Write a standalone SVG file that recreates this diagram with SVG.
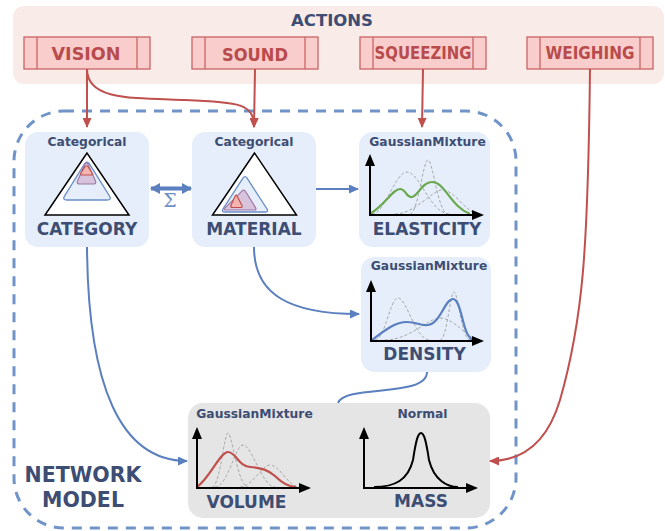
<svg xmlns="http://www.w3.org/2000/svg" width="665" height="531" viewBox="0 0 665 531">
<style>
.title{font-family:"DejaVu Sans",Verdana,sans-serif;font-weight:bold;fill:#3d4d73;text-anchor:middle}
.act{font-family:"DejaVu Sans",Verdana,sans-serif;font-weight:bold;fill:#b84b4b;font-size:17px;text-anchor:middle}
.dist{font-size:12.3px}
.lbl{font-size:17px}
.abox{fill:#f8cdcc;stroke:#c96464;stroke-width:1.3}
.aline{stroke:#c96464;stroke-width:1.3}
.nbox{fill:#e5eefa}
.red{fill:none;stroke:#c0504d;stroke-width:2}
.blue{fill:none;stroke:#5b7fbf;stroke-width:2}
.axis{fill:none;stroke:#000;stroke-width:2}
.gd{fill:none;stroke:#a8a8a8;stroke-width:1;stroke-dasharray:3 2}
</style>
<defs>
<marker id="ar" markerUnits="userSpaceOnUse" markerWidth="10" markerHeight="9" refX="9" refY="4.5" orient="auto"><path d="M0,0 L10,4.5 L0,9 Z" fill="#c0504d"/></marker>
<marker id="ab" markerUnits="userSpaceOnUse" markerWidth="10" markerHeight="9" refX="9" refY="4.5" orient="auto"><path d="M0,0 L10,4.5 L0,9 Z" fill="#5b7fbf"/></marker>
<marker id="ad" markerUnits="userSpaceOnUse" markerWidth="10" markerHeight="11" refX="9" refY="5.5" orient="auto-start-reverse"><path d="M0,0 L10,5.5 L0,11 Z" fill="#5b7fbf"/></marker>
<marker id="ak" markerUnits="userSpaceOnUse" markerWidth="12" markerHeight="10" refX="10" refY="5" orient="auto"><path d="M0,0 L12,5 L0,10 Z" fill="#000"/></marker>
</defs>

<g id="actions">
<rect x="13" y="6" width="651" height="78" rx="11" fill="#f9ebe8"/>
<text class="title" x="332" y="26" font-size="16.5">ACTIONS</text>
</g>
<g id="vision">
<rect class="abox" x="24" y="37" width="126" height="32"/>
<line class="aline" x1="37" y1="37" x2="37" y2="69"/><line class="aline" x1="137" y1="37" x2="137" y2="69"/>
<text class="act" x="86" y="59.5" textLength="69" lengthAdjust="spacingAndGlyphs">VISION</text>
</g>
<g id="sound">
<rect class="abox" x="192" y="37" width="126" height="32"/>
<line class="aline" x1="205" y1="37" x2="205" y2="69"/><line class="aline" x1="305" y1="37" x2="305" y2="69"/>
<text class="act" x="255" y="60.5" textLength="66" lengthAdjust="spacingAndGlyphs">SOUND</text>
</g>
<g id="squeezing">
<rect class="abox" x="360" y="37" width="126" height="32"/>
<line class="aline" x1="373" y1="37" x2="373" y2="69"/><line class="aline" x1="473" y1="37" x2="473" y2="69"/>
<text class="act" x="423" y="59" textLength="97" lengthAdjust="spacingAndGlyphs">SQUEEZING</text>
</g>
<g id="weighing">
<rect class="abox" x="527" y="37" width="126" height="32"/>
<line class="aline" x1="540" y1="37" x2="540" y2="69"/><line class="aline" x1="640" y1="37" x2="640" y2="69"/>
<text class="act" x="590" y="59" textLength="89" lengthAdjust="spacingAndGlyphs">WEIGHING</text>
</g>

<g id="network-model">
<rect x="14" y="111" width="502" height="417" rx="50" fill="none" stroke="#7094c8" stroke-width="3" stroke-dasharray="10 8"/>
<text class="title" x="83" y="481.5" font-size="20.5">NETWORK</text>
<text class="title" x="83" y="506.5" font-size="20.5">MODEL</text>
</g>

<g id="category">
<rect class="nbox" x="25" y="132" width="124" height="115" rx="13"/>
<text class="title dist" x="87" y="146">Categorical</text>
<polygon points="87,153 45,215 129,215" fill="#fff" stroke="#000" stroke-width="1.5"/>
<path d="M84.4 164.2 Q87 160 89.6 164.2 L109.4 195.8 Q112 200 107 200 L67 200 Q62 200 64.6 195.8 Z" fill="#e5eefa" stroke="#6a8fc7" stroke-width="1.3"/>
<path d="M84.8 164.6 Q86.5 161 88.2 164.6 L95.3 180.4 Q97 184 93 184 L80 184 Q76 184 77.7 180.4 Z" fill="#d8c3dc" stroke="#a079a8" stroke-width="1.2"/>
<path d="M84.8 167 Q86.5 164.5 88.2 167 L91.8 172.5 Q93.5 175 90.5 175 L82.5 175 Q79.5 175 81.2 172.5 Z" fill="#f4b4b0" stroke="#c0504d" stroke-width="1.2"/>
<text class="title lbl" x="87" y="235">CATEGORY</text>
</g>

<g id="material">
<rect class="nbox" x="192" y="132" width="124" height="115" rx="13"/>
<text class="title dist" x="254" y="146">Categorical</text>
<polygon points="254.5,153 212.5,215 296.5,215" fill="#fff" stroke="#000" stroke-width="1.5"/>
<path d="M242.8 178.4 Q245 175 247.2 178.4 L266.8 208.6 Q269 212 265 212 L225 212 Q221 212 223.2 208.6 Z" fill="#e5eefa" stroke="#6a8fc7" stroke-width="1.3"/>
<path d="M241.9 191.1 Q244 189 245.6 191.5 L255.4 207.4 Q257 210 254 210 L226 210 Q223 210 225.1 207.9 Z" fill="#d8c3dc" stroke="#a079a8" stroke-width="1.2"/>
<path d="M235 196.3 Q236 194 237.2 196.2 L241.8 205.3 Q243 207.5 240.5 207.5 L232.5 207.5 Q230 207.5 231 205.2 Z" fill="#f4b4b0" stroke="#c0504d" stroke-width="1.2"/>
<text class="title lbl" x="254" y="235">MATERIAL</text>
</g>

<g id="elasticity">
<rect class="nbox" x="359" y="132" width="131" height="115" rx="14"/>
<text class="title dist" x="427.5" y="146">GaussianMixture</text>
<path class="gd" d="M372 214 C385 214 395 172 407 172 C420 172 430 214 450 214"/>
<path class="gd" d="M410 214 C418 214 423 160 428 160 C433 160 438 214 448 214"/>
<path class="gd" d="M395 214 C415 214 432 190 442 190 C455 190 465 212 478 214"/>
<path d="M370 214 C385 205 393 189 400 189 C406 189 406 198 412 197 C418 196 422 182 432 182 C445 182 450 206 470 214" fill="none" stroke="#6aa84f" stroke-width="2.2"/>
<path class="axis" d="M370 215 L370 156" marker-end="url(#ak)"/>
<path class="axis" d="M369 215 L482 215" marker-end="url(#ak)"/>
<text class="title lbl" x="427" y="235">ELASTICITY</text>
</g>

<g id="density">
<rect class="nbox" x="361" y="257" width="130" height="115" rx="14"/>
<text class="title dist" x="429" y="270">GaussianMixture</text>
<path class="gd" d="M375 340 C385 340 390 298 398 298 C407 298 415 340 430 340"/>
<path class="gd" d="M440 340 C447 340 450 292 454 292 C458 292 462 340 470 340"/>
<path class="gd" d="M385 340 C410 340 428 318 440 318 C455 318 468 340 480 340"/>
<path d="M372 340 C385 330 395 322 407 322 C417 322 420 326 428 325 C440 324 445 299 453 299 C462 299 462 336 473 340" fill="none" stroke="#5b7fbf" stroke-width="2.2"/>
<path class="axis" d="M371 341 L371 282" marker-end="url(#ak)"/>
<path class="axis" d="M370 341 L482 341" marker-end="url(#ak)"/>
<text class="title lbl" x="424.5" y="360">DENSITY</text>
</g>

<g id="observations">
<rect x="188" y="403" width="302" height="115" rx="15" fill="#e5e5e5"/>
</g>

<g id="volume">
<text class="title dist" x="254.5" y="418">GaussianMixture</text>
<path class="gd" d="M212 487 C220 487 224 433 228 433 C232 433 238 487 248 487"/>
<path class="gd" d="M215 487 C228 487 235 445 243 445 C252 445 262 487 275 487"/>
<path class="gd" d="M240 487 C252 487 262 465 270 465 C280 465 288 487 300 487"/>
<path d="M197 487 C210 478 220 452 228 452 C236 452 238 466 250 467 C262 468 268 470 275 476 C283 484 290 487 296 487" fill="none" stroke="#c0504d" stroke-width="2.2"/>
<path class="axis" d="M197 488 L197 429" marker-end="url(#ak)"/>
<path class="axis" d="M196 488 L309 488" marker-end="url(#ak)"/>
<text class="title lbl" x="246.5" y="508">VOLUME</text>
</g>

<g id="mass">
<text class="title dist" x="422.5" y="418">Normal</text>
<path d="M374 487 C395 487 408 480 413 460 C416 440 418 433 421 433 C424 433 426 440 429 460 C434 480 447 487 458 487" fill="none" stroke="#000" stroke-width="2"/>
<path class="axis" d="M364 488 L364 429" marker-end="url(#ak)"/>
<path class="axis" d="M363 488 L476 488" marker-end="url(#ak)"/>
<text class="title lbl" x="421" y="506.5">MASS</text>
</g>

<g id="connectors">
<path class="red" d="M87 69 L87 127" marker-end="url(#ar)"/>
<path class="red" d="M87 69 C87 100 130 98 185 100 C240 102 254 104 254 127" marker-end="url(#ar)"/>
<path class="red" d="M255 69 L254 127" marker-end="url(#ar)"/>
<path class="red" d="M423 69 L422 127" marker-end="url(#ar)"/>
<path class="red" d="M590 69 C588 250 583 320 560 400 C548 440 525 461 490 461" marker-end="url(#ar)"/>
<path d="M151 188.5 L191 188.5" fill="none" stroke="#5b7fbf" stroke-width="4" marker-start="url(#ad)" marker-end="url(#ad)"/>
<text x="170" y="207" font-family="'DejaVu Serif','Liberation Serif',serif" font-size="19" fill="#6f8fc8" text-anchor="middle">Σ</text>
<path class="blue" d="M316 189 L358 189" marker-end="url(#ab)"/>
<path class="blue" d="M254 247 C254 295 290 314 359 314" marker-end="url(#ab)"/>
<path class="blue" d="M87 247 C88 385 120 461 187 461" marker-end="url(#ab)"/>
<path class="blue" d="M427 372 C427 398 345 384 338 403"/>
</g>
</svg>
